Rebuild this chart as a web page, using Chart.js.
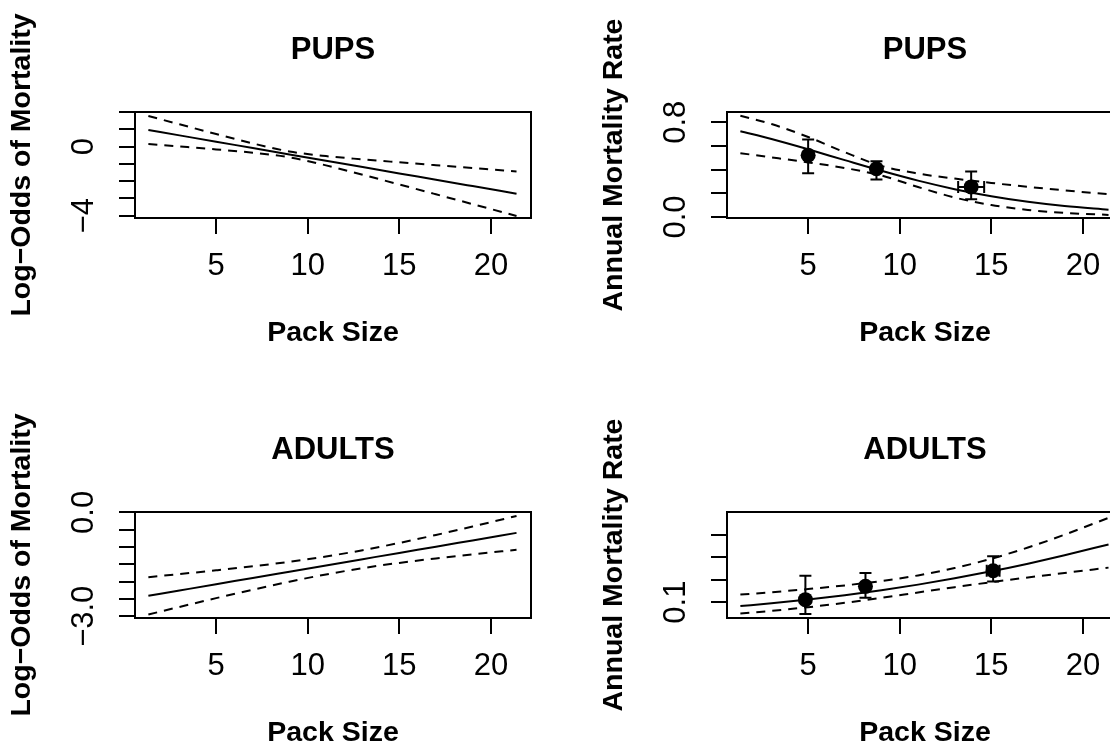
<!DOCTYPE html>
<html><head><meta charset="utf-8">
<script src="https://cdn.jsdelivr.net/npm/chart.js@4.4.0/dist/chart.umd.min.js"></script>
<style>
html,body{margin:0;padding:0;background:#fff;}
#wrap{position:relative;width:1110px;height:744px;overflow:hidden;background:#fff;}
canvas{position:absolute;}
</style></head><body>
<div id="wrap">
<canvas id="c1" width="555" height="400" style="left:0;top:0"></canvas>
<canvas id="c2" width="555" height="400" style="left:592px;top:0"></canvas>
<canvas id="c3" width="555" height="400" style="left:0;top:400px"></canvas>
<canvas id="c4" width="555" height="400" style="left:592px;top:400px"></canvas>
</div>
<script>
// ---- data ----
const packSize = [1.3, 3, 5, 7, 9, 11, 13, 15, 17, 19, 21.4];

const pupLogOdds      = [0.968, 0.656, 0.289, -0.079, -0.446, -0.813, -1.180, -1.547, -1.915, -2.282, -2.722];
const pupLogOddsUpper = [1.779, 1.297, 0.735, 0.189, -0.275, -0.545, -0.734, -0.906, -1.074, -1.238, -1.434];
const pupLogOddsLower = [0.157, 0.015, -0.157, -0.347, -0.617, -1.081, -1.626, -2.188, -2.756, -3.326, -4.010];

const pupRate      = [0.7247, 0.6584, 0.5718, 0.4803, 0.3903, 0.3072, 0.2351, 0.1755, 0.1284, 0.0926, 0.0617];
const pupRateUpper = [0.8556, 0.7853, 0.6759, 0.5471, 0.4317, 0.3670, 0.3243, 0.2878, 0.2546, 0.2248, 0.1925];
const pupRateLower = [0.5392, 0.5037, 0.4608, 0.4141, 0.3504, 0.2533, 0.1644, 0.1008, 0.0597, 0.0347, 0.0178];

const adultLogOdds      = [-2.410, -2.256, -2.075, -1.895, -1.714, -1.533, -1.352, -1.171, -0.991, -0.810, -0.593];
const adultLogOddsUpper = [-1.871, -1.782, -1.673, -1.557, -1.426, -1.274, -1.093, -0.883, -0.653, -0.408, -0.104];
const adultLogOddsLower = [-2.949, -2.730, -2.477, -2.233, -2.002, -1.792, -1.611, -1.459, -1.329, -1.212, -1.082];

const adultRate      = [0.0824, 0.0948, 0.1116, 0.1307, 0.1527, 0.1776, 0.2056, 0.2367, 0.2707, 0.3079, 0.3560];
const adultRateUpper = [0.1334, 0.1440, 0.1580, 0.1741, 0.1937, 0.2186, 0.2511, 0.2926, 0.3423, 0.3994, 0.4740];
const adultRateLower = [0.0498, 0.0612, 0.0775, 0.0968, 0.1190, 0.1428, 0.1664, 0.1886, 0.2093, 0.2294, 0.2531];

// observed group means with error bars
const pupObsSize     = [5.0, 8.73, 13.9];
const pupObsRate     = [0.522, 0.407, 0.254];
const pupObsLow      = [0.369, 0.316, 0.149];
const pupObsHigh     = [0.655, 0.471, 0.384];
const pupObsSizeLow  = [null, null, 13.19];
const pupObsSizeHigh = [null, null, 14.61];

const adultObsSize     = [4.85, 8.13, 15.1];
const adultObsRate     = [0.111, 0.170, 0.239];
const adultObsLow      = [0.047, 0.119, 0.192];
const adultObsHigh     = [0.217, 0.229, 0.304];
const adultObsSizeLow  = [null, null, 14.75];
const adultObsSizeHigh = [null, null, 15.45];

// ticks
const xTicks = [5, 10, 15, 20];
const xTickLabels = ['5', '10', '15', '20'];
const pupLogTicks = [-4, -3, -2, -1, 0, 1, 2];
const pupLogTickLabels = ['\u22124', '', '', '', '0', '', ''];
const pupRateTicks = [0, 0.2, 0.4, 0.6, 0.8];
const pupRateTickLabels = ['0.0', '', '', '', '0.8'];
const adultLogTicks = [-3, -2.5, -2, -1.5, -1, -0.5, 0];
const adultLogTickLabels = ['\u22123.0', '', '', '', '', '', '0.0'];
const adultRateTicks = [0.1, 0.2, 0.3, 0.4];
const adultRateTickLabels = ['0.1', '', '', ''];

// ---- drawing ----
const FAM = '"Liberation Sans", Arial, Helvetica, sans-serif';

function pts(xs, ys) { return xs.map((x, i) => ({x: x, y: ys[i]})); }
function lbl(ticks, labels) {
  return function(v) {
    for (let i = 0; i < ticks.length; i++) if (Math.abs(ticks[i] - v) < 1e-9) return labels[i];
    return '';
  };
}

const boxPlugin = {
  id: 'rbox',
  afterDatasetsDraw(chart) {
    const a = chart.chartArea, ctx = chart.ctx;
    ctx.save();
    ctx.strokeStyle = '#000';
    ctx.lineWidth = 2;
    ctx.strokeRect(a.left, a.top, a.right - a.left, a.bottom - a.top);
    ctx.restore();
  }
};

const errPlugin = {
  id: 'errbars',
  afterDatasetsDraw(chart, args, o) {
    if (!o || !o.x) return;
    const xs = chart.scales.x, ys = chart.scales.y, ctx = chart.ctx;
    const cap = 6;
    ctx.save();
    ctx.strokeStyle = '#000';
    ctx.lineWidth = 2;
    for (let i = 0; i < o.x.length; i++) {
      const px = xs.getPixelForValue(o.x[i]);
      const py = ys.getPixelForValue(o.y[i]);
      const lo = ys.getPixelForValue(o.low[i]);
      const hi = ys.getPixelForValue(o.high[i]);
      ctx.beginPath();
      ctx.moveTo(px, lo); ctx.lineTo(px, hi);
      ctx.moveTo(px - cap, lo); ctx.lineTo(px + cap, lo);
      ctx.moveTo(px - cap, hi); ctx.lineTo(px + cap, hi);
      if (o.xlow[i] != null) {
        const l = xs.getPixelForValue(o.xlow[i]);
        const h = xs.getPixelForValue(o.xhigh[i]);
        ctx.moveTo(l, py); ctx.lineTo(h, py);
        ctx.moveTo(l, py - cap); ctx.lineTo(l, py + cap);
        ctx.moveTo(h, py - cap); ctx.lineTo(h, py + cap);
      }
      ctx.stroke();
    }
    ctx.restore();
  }
};

function lineDs(ys, dashed) {
  return {
    type: 'line', data: pts(packSize, ys),
    borderColor: '#000', borderWidth: 2, borderDash: dashed ? [9, 7] : [],
    pointRadius: 0, fill: false, cubicInterpolationMode: 'monotone'
  };
}

function panel(id, cfg) {
  const datasets = [lineDs(cfg.mid, false), lineDs(cfg.up, true), lineDs(cfg.lo, true)];
  if (cfg.obs) {
    datasets.push({
      type: 'scatter', data: pts(cfg.obs.x, cfg.obs.y), showLine: false,
      pointRadius: 7.5, pointBackgroundColor: '#000', pointBorderWidth: 0, pointBorderColor: '#000'
    });
  }
  new Chart(document.getElementById(id), {
    type: 'line',
    data: {datasets: datasets},
    plugins: [boxPlugin, errPlugin],
    options: {
      responsive: false, animation: false, devicePixelRatio: 1,
      layout: {padding: {left: 0, right: 24, top: 0, bottom: 0}},
      plugins: {
        legend: {display: false},
        tooltip: {enabled: false},
        title: {
          display: true, text: cfg.title, fullSize: false, color: '#000',
          font: {family: FAM, size: 31, weight: 'bold', lineHeight: 1.2},
          padding: {top: 31.4, bottom: 43.4}
        },
        errbars: cfg.obs ? cfg.obs : {}
      },
      scales: {
        x: {
          type: 'linear', position: 'bottom', min: 0.57, max: 22.19,
          afterFit(s) { s.height = 182; },
          afterBuildTicks(s) { s.ticks = xTicks.map(v => ({value: v})); },
          ticks: {autoSkip: false, maxRotation: 0, minRotation: 0, padding: 13.6, color: '#000',
                  font: {family: FAM, size: 31}, callback: lbl(xTicks, xTickLabels)},
          grid: {drawOnChartArea: false, drawTicks: true, tickLength: 16, color: '#000', lineWidth: 2},
          border: {display: false},
          title: {display: true, text: 'Pack Size', color: '#000',
                  font: {family: FAM, size: 28.5, weight: 'bold', lineHeight: 1.2},
                  padding: {top: 0, bottom: 49.9}}
        },
        y: {
          type: 'linear', position: 'left', min: cfg.ymin, max: cfg.ymax,
          afterFit(s) { s.width = 135; },
          afterBuildTicks(s) { s.ticks = cfg.yticks.map(v => ({value: v})); },
          ticks: {autoSkip: false, minRotation: 90, maxRotation: 90, crossAlign: 'center',
                  padding: cfg.ypad, color: '#000', font: {family: FAM, size: 31},
                  callback: lbl(cfg.yticks, cfg.ylabels)},
          grid: {drawOnChartArea: false, drawTicks: true, tickLength: 16, color: '#000', lineWidth: 2},
          border: {display: false},
          title: {display: true, text: cfg.ytitle, color: '#000',
                  font: {family: FAM, size: 28.5, weight: 'bold', lineHeight: 1.2},
                  padding: {top: 4.9, bottom: 0}}
        }
      }
    }
  });
}

panel('c1', {
  title: 'PUPS', ytitle: 'Log\u2212Odds of Mortality',
  mid: pupLogOdds, up: pupLogOddsUpper, lo: pupLogOddsLower,
  ymin: -4.13, ymax: 2.01, yticks: pupLogTicks, ylabels: pupLogTickLabels, ypad: 17.3
});
panel('c2', {
  title: 'PUPS', ytitle: 'Annual Mortality Rate',
  mid: pupRate, up: pupRateUpper, lo: pupRateLower,
  ymin: -0.0085, ymax: 0.887, yticks: pupRateTicks, ylabels: pupRateTickLabels, ypad: 13.4,
  obs: {x: pupObsSize, y: pupObsRate, low: pupObsLow, high: pupObsHigh, xlow: pupObsSizeLow, xhigh: pupObsSizeHigh}
});
panel('c3', {
  title: 'ADULTS', ytitle: 'Log\u2212Odds of Mortality',
  mid: adultLogOdds, up: adultLogOddsUpper, lo: adultLogOddsLower,
  ymin: -3.05, ymax: 0.01, yticks: adultLogTicks, ylabels: adultLogTickLabels, ypad: 4.4
});
panel('c4', {
  title: 'ADULTS', ytitle: 'Annual Mortality Rate',
  mid: adultRate, up: adultRateUpper, lo: adultRateLower,
  ymin: 0.0295, ymax: 0.5, yticks: adultRateTicks, ylabels: adultRateTickLabels, ypad: 13.4,
  obs: {x: adultObsSize, y: adultObsRate, low: adultObsLow, high: adultObsHigh, xlow: adultObsSizeLow, xhigh: adultObsSizeHigh}
});
</script>
</body></html>
